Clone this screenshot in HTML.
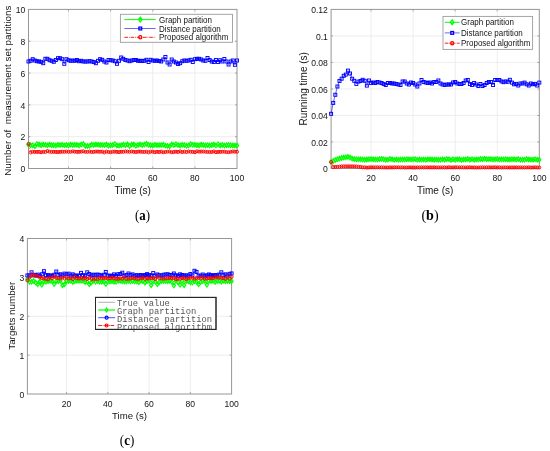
<!DOCTYPE html>
<html><head><meta charset="utf-8"><style>
html,body{margin:0;padding:0;background:#fff;}
svg{display:block;filter:blur(0.35px);font-family:"Liberation Sans",sans-serif;}
</style></head><body>
<svg width="550" height="451" viewBox="0 0 550 451">
<rect width="550" height="451" fill="#fff"/>
<path d="M68.52 9.4V168.5M110.64 9.4V168.5M152.76 9.4V168.5M194.88 9.4V168.5M28.5 136.68H237.0M28.5 104.86H237.0M28.5 73.04H237.0M28.5 41.22H237.0" stroke="#e8e8e8" stroke-width="0.8" fill="none"/>
<path d="M68.52 168.5v-2M68.52 9.4v2M110.64 168.5v-2M110.64 9.4v2M152.76 168.5v-2M152.76 9.4v2M194.88 168.5v-2M194.88 9.4v2M28.5 136.68h2M237.0 136.68h-2M28.5 104.86h2M237.0 104.86h-2M28.5 73.04h2M237.0 73.04h-2M28.5 41.22h2M237.0 41.22h-2" stroke="#969696" stroke-width="0.8" fill="none"/>
<rect x="28.5" y="9.4" width="208.50" height="159.10" stroke="#969696" stroke-width="1" fill="none"/>
<text x="68.52" y="180.90" text-anchor="middle" font-size="8.6" fill="#141414">20</text>
<text x="110.64" y="180.90" text-anchor="middle" font-size="8.6" fill="#141414">40</text>
<text x="152.76" y="180.90" text-anchor="middle" font-size="8.6" fill="#141414">60</text>
<text x="194.88" y="180.90" text-anchor="middle" font-size="8.6" fill="#141414">80</text>
<text x="237.00" y="180.90" text-anchor="middle" font-size="8.6" fill="#141414">100</text>
<text x="25.30" y="172.20" text-anchor="end" font-size="8.6" fill="#141414">0</text>
<text x="25.30" y="140.38" text-anchor="end" font-size="8.6" fill="#141414">2</text>
<text x="25.30" y="108.56" text-anchor="end" font-size="8.6" fill="#141414">4</text>
<text x="25.30" y="76.74" text-anchor="end" font-size="8.6" fill="#141414">6</text>
<text x="25.30" y="44.92" text-anchor="end" font-size="8.6" fill="#141414">8</text>
<text x="25.30" y="13.10" text-anchor="end" font-size="8.6" fill="#141414">10</text>
<text x="132.75" y="193.5" text-anchor="middle" font-size="10.0" fill="#141414">Time (s)</text>
<text transform="translate(10.9 90.7) rotate(-90)" text-anchor="middle" font-size="9.85" fill="#141414" xml:space="preserve">Number of  measurement set partitions</text>
<path d="M28.50 61.50L30.61 60.80L32.71 59.20L34.82 60.50L36.92 61.20L39.03 61.50L41.14 61.80L43.24 63.20L45.35 58.80L47.45 58.80L49.56 60.20L51.67 60.80L53.77 61.80L55.88 60.00L57.98 58.20L60.09 58.20L62.20 59.20L64.30 63.80L66.41 59.20L68.52 60.20L70.62 60.80L72.73 60.50L74.83 60.80L76.94 60.00L79.05 61.20L81.15 60.80L83.26 61.50L85.36 61.50L87.47 61.50L89.58 61.20L91.68 61.50L93.79 62.00L95.89 63.20L98.00 60.80L100.11 59.20L102.21 59.80L104.32 61.50L106.42 62.50L108.53 60.00L110.64 60.20L112.74 60.50L114.85 61.20L116.95 63.80L119.06 60.80L121.17 57.50L123.27 58.80L125.38 60.00L127.48 60.50L129.59 61.20L131.70 60.50L133.80 60.00L135.91 60.00L138.02 60.80L140.12 60.80L142.23 61.00L144.33 60.80L146.44 59.80L148.55 62.00L150.65 59.80L152.76 60.50L154.86 60.80L156.97 60.50L159.08 61.00L161.18 61.50L163.29 59.50L165.39 57.00L167.50 62.50L169.61 64.50L171.71 59.50L173.82 61.50L175.92 62.50L178.03 64.00L180.14 63.20L182.24 61.20L184.35 60.50L186.45 60.80L188.56 60.50L190.67 59.80L192.77 62.00L194.88 59.20L196.98 58.80L199.09 58.80L201.20 59.50L203.30 60.50L205.41 60.80L207.52 58.00L209.62 60.00L211.73 61.50L213.83 62.00L215.94 60.00L218.05 62.00L220.15 60.20L222.26 61.50L224.36 59.00L226.47 61.50L228.58 64.50L230.68 61.50L232.79 60.50L234.89 64.80L237.00 60.50" stroke="#0000ff" stroke-width="0.6" fill="none"/>
<g fill="none" stroke="#0000ff" stroke-width="0.95"><rect x="27.00" y="60.00" width="3.00" height="3.00"/><rect x="29.11" y="59.30" width="3.00" height="3.00"/><rect x="31.21" y="57.70" width="3.00" height="3.00"/><rect x="33.32" y="59.00" width="3.00" height="3.00"/><rect x="35.42" y="59.70" width="3.00" height="3.00"/><rect x="37.53" y="60.00" width="3.00" height="3.00"/><rect x="39.64" y="60.30" width="3.00" height="3.00"/><rect x="41.74" y="61.70" width="3.00" height="3.00"/><rect x="43.85" y="57.30" width="3.00" height="3.00"/><rect x="45.95" y="57.30" width="3.00" height="3.00"/><rect x="48.06" y="58.70" width="3.00" height="3.00"/><rect x="50.17" y="59.30" width="3.00" height="3.00"/><rect x="52.27" y="60.30" width="3.00" height="3.00"/><rect x="54.38" y="58.50" width="3.00" height="3.00"/><rect x="56.48" y="56.70" width="3.00" height="3.00"/><rect x="58.59" y="56.70" width="3.00" height="3.00"/><rect x="60.70" y="57.70" width="3.00" height="3.00"/><rect x="62.80" y="62.30" width="3.00" height="3.00"/><rect x="64.91" y="57.70" width="3.00" height="3.00"/><rect x="67.02" y="58.70" width="3.00" height="3.00"/><rect x="69.12" y="59.30" width="3.00" height="3.00"/><rect x="71.23" y="59.00" width="3.00" height="3.00"/><rect x="73.33" y="59.30" width="3.00" height="3.00"/><rect x="75.44" y="58.50" width="3.00" height="3.00"/><rect x="77.55" y="59.70" width="3.00" height="3.00"/><rect x="79.65" y="59.30" width="3.00" height="3.00"/><rect x="81.76" y="60.00" width="3.00" height="3.00"/><rect x="83.86" y="60.00" width="3.00" height="3.00"/><rect x="85.97" y="60.00" width="3.00" height="3.00"/><rect x="88.08" y="59.70" width="3.00" height="3.00"/><rect x="90.18" y="60.00" width="3.00" height="3.00"/><rect x="92.29" y="60.50" width="3.00" height="3.00"/><rect x="94.39" y="61.70" width="3.00" height="3.00"/><rect x="96.50" y="59.30" width="3.00" height="3.00"/><rect x="98.61" y="57.70" width="3.00" height="3.00"/><rect x="100.71" y="58.30" width="3.00" height="3.00"/><rect x="102.82" y="60.00" width="3.00" height="3.00"/><rect x="104.92" y="61.00" width="3.00" height="3.00"/><rect x="107.03" y="58.50" width="3.00" height="3.00"/><rect x="109.14" y="58.70" width="3.00" height="3.00"/><rect x="111.24" y="59.00" width="3.00" height="3.00"/><rect x="113.35" y="59.70" width="3.00" height="3.00"/><rect x="115.45" y="62.30" width="3.00" height="3.00"/><rect x="117.56" y="59.30" width="3.00" height="3.00"/><rect x="119.67" y="56.00" width="3.00" height="3.00"/><rect x="121.77" y="57.30" width="3.00" height="3.00"/><rect x="123.88" y="58.50" width="3.00" height="3.00"/><rect x="125.98" y="59.00" width="3.00" height="3.00"/><rect x="128.09" y="59.70" width="3.00" height="3.00"/><rect x="130.20" y="59.00" width="3.00" height="3.00"/><rect x="132.30" y="58.50" width="3.00" height="3.00"/><rect x="134.41" y="58.50" width="3.00" height="3.00"/><rect x="136.52" y="59.30" width="3.00" height="3.00"/><rect x="138.62" y="59.30" width="3.00" height="3.00"/><rect x="140.73" y="59.50" width="3.00" height="3.00"/><rect x="142.83" y="59.30" width="3.00" height="3.00"/><rect x="144.94" y="58.30" width="3.00" height="3.00"/><rect x="147.05" y="60.50" width="3.00" height="3.00"/><rect x="149.15" y="58.30" width="3.00" height="3.00"/><rect x="151.26" y="59.00" width="3.00" height="3.00"/><rect x="153.36" y="59.30" width="3.00" height="3.00"/><rect x="155.47" y="59.00" width="3.00" height="3.00"/><rect x="157.58" y="59.50" width="3.00" height="3.00"/><rect x="159.68" y="60.00" width="3.00" height="3.00"/><rect x="161.79" y="58.00" width="3.00" height="3.00"/><rect x="163.89" y="55.50" width="3.00" height="3.00"/><rect x="166.00" y="61.00" width="3.00" height="3.00"/><rect x="168.11" y="63.00" width="3.00" height="3.00"/><rect x="170.21" y="58.00" width="3.00" height="3.00"/><rect x="172.32" y="60.00" width="3.00" height="3.00"/><rect x="174.42" y="61.00" width="3.00" height="3.00"/><rect x="176.53" y="62.50" width="3.00" height="3.00"/><rect x="178.64" y="61.70" width="3.00" height="3.00"/><rect x="180.74" y="59.70" width="3.00" height="3.00"/><rect x="182.85" y="59.00" width="3.00" height="3.00"/><rect x="184.95" y="59.30" width="3.00" height="3.00"/><rect x="187.06" y="59.00" width="3.00" height="3.00"/><rect x="189.17" y="58.30" width="3.00" height="3.00"/><rect x="191.27" y="60.50" width="3.00" height="3.00"/><rect x="193.38" y="57.70" width="3.00" height="3.00"/><rect x="195.48" y="57.30" width="3.00" height="3.00"/><rect x="197.59" y="57.30" width="3.00" height="3.00"/><rect x="199.70" y="58.00" width="3.00" height="3.00"/><rect x="201.80" y="59.00" width="3.00" height="3.00"/><rect x="203.91" y="59.30" width="3.00" height="3.00"/><rect x="206.02" y="56.50" width="3.00" height="3.00"/><rect x="208.12" y="58.50" width="3.00" height="3.00"/><rect x="210.23" y="60.00" width="3.00" height="3.00"/><rect x="212.33" y="60.50" width="3.00" height="3.00"/><rect x="214.44" y="58.50" width="3.00" height="3.00"/><rect x="216.55" y="60.50" width="3.00" height="3.00"/><rect x="218.65" y="58.70" width="3.00" height="3.00"/><rect x="220.76" y="60.00" width="3.00" height="3.00"/><rect x="222.86" y="57.50" width="3.00" height="3.00"/><rect x="224.97" y="60.00" width="3.00" height="3.00"/><rect x="227.08" y="63.00" width="3.00" height="3.00"/><rect x="229.18" y="60.00" width="3.00" height="3.00"/><rect x="231.29" y="59.00" width="3.00" height="3.00"/><rect x="233.39" y="63.30" width="3.00" height="3.00"/><rect x="235.50" y="59.00" width="3.00" height="3.00"/></g>
<path d="M28.50 144.63L30.61 145.32L32.71 145.26L34.82 146.39L36.92 144.03L39.03 144.40L41.14 145.21L43.24 144.60L45.35 144.88L47.45 145.34L49.56 144.49L51.67 145.21L53.77 145.22L55.88 145.47L57.98 144.78L60.09 145.09L62.20 144.73L64.30 145.37L66.41 144.96L68.52 145.53L70.62 144.56L72.73 144.93L74.83 144.85L76.94 144.80L79.05 145.60L81.15 144.60L83.26 143.89L85.36 145.95L87.47 146.00L89.58 145.87L91.68 144.56L93.79 144.96L95.89 144.43L98.00 144.63L100.11 144.92L102.21 144.87L104.32 145.13L106.42 144.55L108.53 145.66L110.64 145.27L112.74 144.90L114.85 144.03L116.95 145.46L119.06 145.63L121.17 145.35L123.27 144.49L125.38 145.16L127.48 144.30L129.59 146.08L131.70 144.40L133.80 144.46L135.91 145.82L138.02 144.95L140.12 144.36L142.23 144.98L144.33 144.48L146.44 143.71L148.55 144.88L150.65 145.19L152.76 145.46L154.86 144.67L156.97 145.14L159.08 145.13L161.18 145.09L163.29 144.67L165.39 145.63L167.50 145.88L169.61 146.39L171.71 144.37L173.82 144.99L175.92 144.19L178.03 145.04L180.14 145.45L182.24 144.77L184.35 145.08L186.45 145.73L188.56 145.53L190.67 144.05L192.77 144.84L194.88 144.80L196.98 145.19L199.09 145.42L201.20 144.54L203.30 145.09L205.41 145.46L207.52 145.11L209.62 145.54L211.73 144.93L213.83 144.40L215.94 145.50L218.05 144.24L220.15 145.40L222.26 144.95L224.36 145.50L226.47 145.16L228.58 145.01L230.68 145.27L232.79 145.42L234.89 145.41L237.00 145.49" stroke="#00ff00" stroke-width="0.6" fill="none"/>
<g fill="none" stroke="#00ff00" stroke-width="1.15"><path d="M28.50 142.38L30.12 144.63L28.50 146.88L26.88 144.63Z"/><path d="M30.61 143.07L32.23 145.32L30.61 147.57L28.99 145.32Z"/><path d="M32.71 143.01L34.33 145.26L32.71 147.51L31.09 145.26Z"/><path d="M34.82 144.14L36.44 146.39L34.82 148.64L33.20 146.39Z"/><path d="M36.92 141.78L38.54 144.03L36.92 146.28L35.30 144.03Z"/><path d="M39.03 142.15L40.65 144.40L39.03 146.65L37.41 144.40Z"/><path d="M41.14 142.96L42.76 145.21L41.14 147.46L39.52 145.21Z"/><path d="M43.24 142.35L44.86 144.60L43.24 146.85L41.62 144.60Z"/><path d="M45.35 142.63L46.97 144.88L45.35 147.13L43.73 144.88Z"/><path d="M47.45 143.09L49.07 145.34L47.45 147.59L45.83 145.34Z"/><path d="M49.56 142.24L51.18 144.49L49.56 146.74L47.94 144.49Z"/><path d="M51.67 142.96L53.29 145.21L51.67 147.46L50.05 145.21Z"/><path d="M53.77 142.97L55.39 145.22L53.77 147.47L52.15 145.22Z"/><path d="M55.88 143.22L57.50 145.47L55.88 147.72L54.26 145.47Z"/><path d="M57.98 142.53L59.60 144.78L57.98 147.03L56.36 144.78Z"/><path d="M60.09 142.84L61.71 145.09L60.09 147.34L58.47 145.09Z"/><path d="M62.20 142.48L63.82 144.73L62.20 146.98L60.58 144.73Z"/><path d="M64.30 143.12L65.92 145.37L64.30 147.62L62.68 145.37Z"/><path d="M66.41 142.71L68.03 144.96L66.41 147.21L64.79 144.96Z"/><path d="M68.52 143.28L70.14 145.53L68.52 147.78L66.90 145.53Z"/><path d="M70.62 142.31L72.24 144.56L70.62 146.81L69.00 144.56Z"/><path d="M72.73 142.68L74.35 144.93L72.73 147.18L71.11 144.93Z"/><path d="M74.83 142.60L76.45 144.85L74.83 147.10L73.21 144.85Z"/><path d="M76.94 142.55L78.56 144.80L76.94 147.05L75.32 144.80Z"/><path d="M79.05 143.35L80.67 145.60L79.05 147.85L77.43 145.60Z"/><path d="M81.15 142.35L82.77 144.60L81.15 146.85L79.53 144.60Z"/><path d="M83.26 141.64L84.88 143.89L83.26 146.14L81.64 143.89Z"/><path d="M85.36 143.70L86.98 145.95L85.36 148.20L83.74 145.95Z"/><path d="M87.47 143.75L89.09 146.00L87.47 148.25L85.85 146.00Z"/><path d="M89.58 143.62L91.20 145.87L89.58 148.12L87.96 145.87Z"/><path d="M91.68 142.31L93.30 144.56L91.68 146.81L90.06 144.56Z"/><path d="M93.79 142.71L95.41 144.96L93.79 147.21L92.17 144.96Z"/><path d="M95.89 142.18L97.51 144.43L95.89 146.68L94.27 144.43Z"/><path d="M98.00 142.38L99.62 144.63L98.00 146.88L96.38 144.63Z"/><path d="M100.11 142.67L101.73 144.92L100.11 147.17L98.49 144.92Z"/><path d="M102.21 142.62L103.83 144.87L102.21 147.12L100.59 144.87Z"/><path d="M104.32 142.88L105.94 145.13L104.32 147.38L102.70 145.13Z"/><path d="M106.42 142.30L108.04 144.55L106.42 146.80L104.80 144.55Z"/><path d="M108.53 143.41L110.15 145.66L108.53 147.91L106.91 145.66Z"/><path d="M110.64 143.02L112.26 145.27L110.64 147.52L109.02 145.27Z"/><path d="M112.74 142.65L114.36 144.90L112.74 147.15L111.12 144.90Z"/><path d="M114.85 141.78L116.47 144.03L114.85 146.28L113.23 144.03Z"/><path d="M116.95 143.21L118.57 145.46L116.95 147.71L115.33 145.46Z"/><path d="M119.06 143.38L120.68 145.63L119.06 147.88L117.44 145.63Z"/><path d="M121.17 143.10L122.79 145.35L121.17 147.60L119.55 145.35Z"/><path d="M123.27 142.24L124.89 144.49L123.27 146.74L121.65 144.49Z"/><path d="M125.38 142.91L127.00 145.16L125.38 147.41L123.76 145.16Z"/><path d="M127.48 142.05L129.10 144.30L127.48 146.55L125.86 144.30Z"/><path d="M129.59 143.83L131.21 146.08L129.59 148.33L127.97 146.08Z"/><path d="M131.70 142.15L133.32 144.40L131.70 146.65L130.08 144.40Z"/><path d="M133.80 142.21L135.42 144.46L133.80 146.71L132.18 144.46Z"/><path d="M135.91 143.57L137.53 145.82L135.91 148.07L134.29 145.82Z"/><path d="M138.02 142.70L139.64 144.95L138.02 147.20L136.40 144.95Z"/><path d="M140.12 142.11L141.74 144.36L140.12 146.61L138.50 144.36Z"/><path d="M142.23 142.73L143.85 144.98L142.23 147.23L140.61 144.98Z"/><path d="M144.33 142.23L145.95 144.48L144.33 146.73L142.71 144.48Z"/><path d="M146.44 141.46L148.06 143.71L146.44 145.96L144.82 143.71Z"/><path d="M148.55 142.63L150.17 144.88L148.55 147.13L146.93 144.88Z"/><path d="M150.65 142.94L152.27 145.19L150.65 147.44L149.03 145.19Z"/><path d="M152.76 143.21L154.38 145.46L152.76 147.71L151.14 145.46Z"/><path d="M154.86 142.42L156.48 144.67L154.86 146.92L153.24 144.67Z"/><path d="M156.97 142.89L158.59 145.14L156.97 147.39L155.35 145.14Z"/><path d="M159.08 142.88L160.70 145.13L159.08 147.38L157.46 145.13Z"/><path d="M161.18 142.84L162.80 145.09L161.18 147.34L159.56 145.09Z"/><path d="M163.29 142.42L164.91 144.67L163.29 146.92L161.67 144.67Z"/><path d="M165.39 143.38L167.01 145.63L165.39 147.88L163.77 145.63Z"/><path d="M167.50 143.63L169.12 145.88L167.50 148.13L165.88 145.88Z"/><path d="M169.61 144.14L171.23 146.39L169.61 148.64L167.99 146.39Z"/><path d="M171.71 142.12L173.33 144.37L171.71 146.62L170.09 144.37Z"/><path d="M173.82 142.74L175.44 144.99L173.82 147.24L172.20 144.99Z"/><path d="M175.92 141.94L177.54 144.19L175.92 146.44L174.30 144.19Z"/><path d="M178.03 142.79L179.65 145.04L178.03 147.29L176.41 145.04Z"/><path d="M180.14 143.20L181.76 145.45L180.14 147.70L178.52 145.45Z"/><path d="M182.24 142.52L183.86 144.77L182.24 147.02L180.62 144.77Z"/><path d="M184.35 142.83L185.97 145.08L184.35 147.33L182.73 145.08Z"/><path d="M186.45 143.48L188.07 145.73L186.45 147.98L184.83 145.73Z"/><path d="M188.56 143.28L190.18 145.53L188.56 147.78L186.94 145.53Z"/><path d="M190.67 141.80L192.29 144.05L190.67 146.30L189.05 144.05Z"/><path d="M192.77 142.59L194.39 144.84L192.77 147.09L191.15 144.84Z"/><path d="M194.88 142.55L196.50 144.80L194.88 147.05L193.26 144.80Z"/><path d="M196.98 142.94L198.60 145.19L196.98 147.44L195.36 145.19Z"/><path d="M199.09 143.17L200.71 145.42L199.09 147.67L197.47 145.42Z"/><path d="M201.20 142.29L202.82 144.54L201.20 146.79L199.58 144.54Z"/><path d="M203.30 142.84L204.92 145.09L203.30 147.34L201.68 145.09Z"/><path d="M205.41 143.21L207.03 145.46L205.41 147.71L203.79 145.46Z"/><path d="M207.52 142.86L209.14 145.11L207.52 147.36L205.90 145.11Z"/><path d="M209.62 143.29L211.24 145.54L209.62 147.79L208.00 145.54Z"/><path d="M211.73 142.68L213.35 144.93L211.73 147.18L210.11 144.93Z"/><path d="M213.83 142.15L215.45 144.40L213.83 146.65L212.21 144.40Z"/><path d="M215.94 143.25L217.56 145.50L215.94 147.75L214.32 145.50Z"/><path d="M218.05 141.99L219.67 144.24L218.05 146.49L216.43 144.24Z"/><path d="M220.15 143.15L221.77 145.40L220.15 147.65L218.53 145.40Z"/><path d="M222.26 142.70L223.88 144.95L222.26 147.20L220.64 144.95Z"/><path d="M224.36 143.25L225.98 145.50L224.36 147.75L222.74 145.50Z"/><path d="M226.47 142.91L228.09 145.16L226.47 147.41L224.85 145.16Z"/><path d="M228.58 142.76L230.20 145.01L228.58 147.26L226.96 145.01Z"/><path d="M230.68 143.02L232.30 145.27L230.68 147.52L229.06 145.27Z"/><path d="M232.79 143.17L234.41 145.42L232.79 147.67L231.17 145.42Z"/><path d="M234.89 143.16L236.51 145.41L234.89 147.66L233.27 145.41Z"/><path d="M237.00 143.24L238.62 145.49L237.00 147.74L235.38 145.49Z"/></g>
<path d="M28.50 143.84L30.61 152.40L32.71 151.69L34.82 151.93L36.92 151.90L39.03 151.85L41.14 152.28L43.24 151.85L45.35 152.00L47.45 151.00L49.56 151.74L51.67 151.88L53.77 151.86L55.88 151.95L57.98 152.05L60.09 151.89L62.20 151.68L64.30 151.85L66.41 151.57L68.52 151.84L70.62 151.79L72.73 151.43L74.83 151.66L76.94 151.92L79.05 151.84L81.15 151.67L83.26 151.33L85.36 151.86L87.47 151.85L89.58 151.56L91.68 152.01L93.79 151.86L95.89 151.58L98.00 151.66L100.11 151.77L102.21 151.63L104.32 152.47L106.42 151.55L108.53 152.02L110.64 152.19L112.74 151.73L114.85 151.63L116.95 151.90L119.06 152.05L121.17 151.79L123.27 151.81L125.38 151.46L127.48 151.62L129.59 151.75L131.70 151.53L133.80 151.84L135.91 152.02L138.02 151.66L140.12 151.66L142.23 151.85L144.33 151.98L146.44 151.74L148.55 152.39L150.65 151.63L152.76 151.68L154.86 152.19L156.97 151.78L159.08 152.02L161.18 151.61L163.29 152.28L165.39 152.01L167.50 151.63L169.61 151.52L171.71 152.31L173.82 151.91L175.92 151.72L178.03 151.94L180.14 151.41L182.24 152.08L184.35 151.71L186.45 152.04L188.56 151.46L190.67 151.80L192.77 151.88L194.88 152.20L196.98 151.39L199.09 151.61L201.20 151.61L203.30 151.52L205.41 151.71L207.52 151.95L209.62 151.99L211.73 151.99L213.83 151.47L215.94 152.14L218.05 151.94L220.15 151.87L222.26 151.74L224.36 151.66L226.47 152.09L228.58 152.21L230.68 151.80L232.79 151.50L234.89 151.61L237.00 151.74" stroke="#ff0000" stroke-width="0.6" fill="none" stroke-dasharray="3.6 0.9 0.8 0.9"/>
<g fill="none" stroke="#ff0000" stroke-width="0.95"><circle cx="28.50" cy="143.84" r="1.50"/><circle cx="30.61" cy="152.40" r="1.50"/><circle cx="32.71" cy="151.69" r="1.50"/><circle cx="34.82" cy="151.93" r="1.50"/><circle cx="36.92" cy="151.90" r="1.50"/><circle cx="39.03" cy="151.85" r="1.50"/><circle cx="41.14" cy="152.28" r="1.50"/><circle cx="43.24" cy="151.85" r="1.50"/><circle cx="45.35" cy="152.00" r="1.50"/><circle cx="47.45" cy="151.00" r="1.50"/><circle cx="49.56" cy="151.74" r="1.50"/><circle cx="51.67" cy="151.88" r="1.50"/><circle cx="53.77" cy="151.86" r="1.50"/><circle cx="55.88" cy="151.95" r="1.50"/><circle cx="57.98" cy="152.05" r="1.50"/><circle cx="60.09" cy="151.89" r="1.50"/><circle cx="62.20" cy="151.68" r="1.50"/><circle cx="64.30" cy="151.85" r="1.50"/><circle cx="66.41" cy="151.57" r="1.50"/><circle cx="68.52" cy="151.84" r="1.50"/><circle cx="70.62" cy="151.79" r="1.50"/><circle cx="72.73" cy="151.43" r="1.50"/><circle cx="74.83" cy="151.66" r="1.50"/><circle cx="76.94" cy="151.92" r="1.50"/><circle cx="79.05" cy="151.84" r="1.50"/><circle cx="81.15" cy="151.67" r="1.50"/><circle cx="83.26" cy="151.33" r="1.50"/><circle cx="85.36" cy="151.86" r="1.50"/><circle cx="87.47" cy="151.85" r="1.50"/><circle cx="89.58" cy="151.56" r="1.50"/><circle cx="91.68" cy="152.01" r="1.50"/><circle cx="93.79" cy="151.86" r="1.50"/><circle cx="95.89" cy="151.58" r="1.50"/><circle cx="98.00" cy="151.66" r="1.50"/><circle cx="100.11" cy="151.77" r="1.50"/><circle cx="102.21" cy="151.63" r="1.50"/><circle cx="104.32" cy="152.47" r="1.50"/><circle cx="106.42" cy="151.55" r="1.50"/><circle cx="108.53" cy="152.02" r="1.50"/><circle cx="110.64" cy="152.19" r="1.50"/><circle cx="112.74" cy="151.73" r="1.50"/><circle cx="114.85" cy="151.63" r="1.50"/><circle cx="116.95" cy="151.90" r="1.50"/><circle cx="119.06" cy="152.05" r="1.50"/><circle cx="121.17" cy="151.79" r="1.50"/><circle cx="123.27" cy="151.81" r="1.50"/><circle cx="125.38" cy="151.46" r="1.50"/><circle cx="127.48" cy="151.62" r="1.50"/><circle cx="129.59" cy="151.75" r="1.50"/><circle cx="131.70" cy="151.53" r="1.50"/><circle cx="133.80" cy="151.84" r="1.50"/><circle cx="135.91" cy="152.02" r="1.50"/><circle cx="138.02" cy="151.66" r="1.50"/><circle cx="140.12" cy="151.66" r="1.50"/><circle cx="142.23" cy="151.85" r="1.50"/><circle cx="144.33" cy="151.98" r="1.50"/><circle cx="146.44" cy="151.74" r="1.50"/><circle cx="148.55" cy="152.39" r="1.50"/><circle cx="150.65" cy="151.63" r="1.50"/><circle cx="152.76" cy="151.68" r="1.50"/><circle cx="154.86" cy="152.19" r="1.50"/><circle cx="156.97" cy="151.78" r="1.50"/><circle cx="159.08" cy="152.02" r="1.50"/><circle cx="161.18" cy="151.61" r="1.50"/><circle cx="163.29" cy="152.28" r="1.50"/><circle cx="165.39" cy="152.01" r="1.50"/><circle cx="167.50" cy="151.63" r="1.50"/><circle cx="169.61" cy="151.52" r="1.50"/><circle cx="171.71" cy="152.31" r="1.50"/><circle cx="173.82" cy="151.91" r="1.50"/><circle cx="175.92" cy="151.72" r="1.50"/><circle cx="178.03" cy="151.94" r="1.50"/><circle cx="180.14" cy="151.41" r="1.50"/><circle cx="182.24" cy="152.08" r="1.50"/><circle cx="184.35" cy="151.71" r="1.50"/><circle cx="186.45" cy="152.04" r="1.50"/><circle cx="188.56" cy="151.46" r="1.50"/><circle cx="190.67" cy="151.80" r="1.50"/><circle cx="192.77" cy="151.88" r="1.50"/><circle cx="194.88" cy="152.20" r="1.50"/><circle cx="196.98" cy="151.39" r="1.50"/><circle cx="199.09" cy="151.61" r="1.50"/><circle cx="201.20" cy="151.61" r="1.50"/><circle cx="203.30" cy="151.52" r="1.50"/><circle cx="205.41" cy="151.71" r="1.50"/><circle cx="207.52" cy="151.95" r="1.50"/><circle cx="209.62" cy="151.99" r="1.50"/><circle cx="211.73" cy="151.99" r="1.50"/><circle cx="213.83" cy="151.47" r="1.50"/><circle cx="215.94" cy="152.14" r="1.50"/><circle cx="218.05" cy="151.94" r="1.50"/><circle cx="220.15" cy="151.87" r="1.50"/><circle cx="222.26" cy="151.74" r="1.50"/><circle cx="224.36" cy="151.66" r="1.50"/><circle cx="226.47" cy="152.09" r="1.50"/><circle cx="228.58" cy="152.21" r="1.50"/><circle cx="230.68" cy="151.80" r="1.50"/><circle cx="232.79" cy="151.50" r="1.50"/><circle cx="234.89" cy="151.61" r="1.50"/><circle cx="237.00" cy="151.74" r="1.50"/></g>
<rect x="120.4" y="14.3" width="112.10" height="28.00" fill="#fff" stroke="#9c9c9c" stroke-width="0.9"/>
<path d="M124.4 19.6H155.6" stroke="#00ff00" stroke-width="1.0"/>
<g fill="none" stroke="#00ff00" stroke-width="1.25"><path d="M140.30 17.23L142.01 19.60L140.30 21.98L138.59 19.60Z"/></g>
<text transform="translate(159.0 22.70) scale(0.885 1)" font-size="9.05" fill="#141414">Graph partition</text>
<path d="M124.4 28.5H155.6" stroke="#0000ff" stroke-width="0.6"/>
<g fill="none" stroke="#0000ff" stroke-width="1.25"><rect x="138.90" y="27.10" width="2.80" height="2.80"/></g>
<text transform="translate(159.0 31.60) scale(0.885 1)" font-size="9.05" fill="#141414">Distance partition</text>
<path d="M124.4 37.3H155.6" stroke="#ff0000" stroke-width="0.9" stroke-dasharray="3.6 0.9 0.8 0.9"/>
<g fill="none" stroke="#ff0000" stroke-width="1.25"><circle cx="140.30" cy="37.30" r="1.60"/></g>
<text transform="translate(159.0 40.40) scale(0.885 1)" font-size="9.05" fill="#141414">Proposed algorithm</text>
<path d="M371.06 9.4V168.5M413.12 9.4V168.5M455.18 9.4V168.5M497.24 9.4V168.5M331.1 141.98H539.3M331.1 115.47H539.3M331.1 88.95H539.3M331.1 62.43H539.3M331.1 35.92H539.3" stroke="#e8e8e8" stroke-width="0.8" fill="none"/>
<path d="M371.06 168.5v-2M371.06 9.4v2M413.12 168.5v-2M413.12 9.4v2M455.18 168.5v-2M455.18 9.4v2M497.24 168.5v-2M497.24 9.4v2M331.1 141.98h2M539.3 141.98h-2M331.1 115.47h2M539.3 115.47h-2M331.1 88.95h2M539.3 88.95h-2M331.1 62.43h2M539.3 62.43h-2M331.1 35.92h2M539.3 35.92h-2" stroke="#969696" stroke-width="0.8" fill="none"/>
<rect x="331.1" y="9.4" width="208.20" height="159.10" stroke="#969696" stroke-width="1" fill="none"/>
<text x="371.06" y="180.90" text-anchor="middle" font-size="8.6" fill="#141414">20</text>
<text x="413.12" y="180.90" text-anchor="middle" font-size="8.6" fill="#141414">40</text>
<text x="455.18" y="180.90" text-anchor="middle" font-size="8.6" fill="#141414">60</text>
<text x="497.24" y="180.90" text-anchor="middle" font-size="8.6" fill="#141414">80</text>
<text x="539.30" y="180.90" text-anchor="middle" font-size="8.6" fill="#141414">100</text>
<text x="327.90" y="172.20" text-anchor="end" font-size="8.6" fill="#141414">0</text>
<text x="327.90" y="145.68" text-anchor="end" font-size="8.6" fill="#141414">0.02</text>
<text x="327.90" y="119.17" text-anchor="end" font-size="8.6" fill="#141414">0.04</text>
<text x="327.90" y="92.65" text-anchor="end" font-size="8.6" fill="#141414">0.06</text>
<text x="327.90" y="66.13" text-anchor="end" font-size="8.6" fill="#141414">0.08</text>
<text x="327.90" y="39.62" text-anchor="end" font-size="8.6" fill="#141414">0.1</text>
<text x="327.90" y="13.10" text-anchor="end" font-size="8.6" fill="#141414">0.12</text>
<text x="435.20" y="193.5" text-anchor="middle" font-size="10.0" fill="#141414">Time (s)</text>
<text transform="translate(306.8 88.8) rotate(-90)" text-anchor="middle" font-size="10.0" fill="#141414" xml:space="preserve">Running time (s)</text>
<path d="M331.10 113.80L333.20 102.90L335.31 94.80L337.41 86.50L339.51 81.00L341.62 78.70L343.72 75.80L345.82 74.60L347.92 70.60L350.03 73.50L352.13 78.70L354.23 80.80L356.34 83.90L358.44 81.60L360.54 81.00L362.65 79.80L364.75 80.80L366.85 85.60L368.95 80.50L371.06 83.00L373.16 82.50L375.26 83.00L377.37 82.00L379.47 82.50L381.57 83.00L383.68 84.00L385.78 85.00L387.88 83.00L389.98 83.00L392.09 83.50L394.19 83.50L396.29 84.00L398.40 84.50L400.50 85.00L402.60 81.50L404.71 81.50L406.81 83.50L408.91 84.50L411.02 82.50L413.12 83.00L415.22 84.50L417.32 86.50L419.43 83.50L421.53 80.00L423.63 82.00L425.74 82.50L427.84 83.00L429.94 82.50L432.05 83.50L434.15 82.00L436.25 82.00L438.35 80.50L440.46 83.50L442.56 84.50L444.66 85.00L446.77 84.50L448.87 84.50L450.97 84.50L453.08 82.50L455.18 82.00L457.28 83.50L459.38 84.00L461.49 84.00L463.59 83.00L465.69 80.50L467.80 80.00L469.90 84.00L472.00 85.00L474.11 83.00L476.21 84.50L478.31 86.00L480.42 84.00L482.52 86.00L484.62 85.00L486.72 83.00L488.83 82.00L490.93 82.00L493.03 85.00L495.14 80.00L497.24 80.00L499.34 80.00L501.45 81.40L503.55 82.20L505.65 81.40L507.75 81.80L509.86 79.80L511.96 82.60L514.06 84.30L516.17 83.90L518.27 85.50L520.37 83.50L522.48 83.50L524.58 82.60L526.68 84.30L528.78 85.50L530.89 83.50L532.99 84.30L535.09 83.90L537.20 85.50L539.30 82.60" stroke="#0000ff" stroke-width="0.6" fill="none"/>
<g fill="none" stroke="#0000ff" stroke-width="0.95"><rect x="329.60" y="112.30" width="3.00" height="3.00"/><rect x="331.70" y="101.40" width="3.00" height="3.00"/><rect x="333.81" y="93.30" width="3.00" height="3.00"/><rect x="335.91" y="85.00" width="3.00" height="3.00"/><rect x="338.01" y="79.50" width="3.00" height="3.00"/><rect x="340.12" y="77.20" width="3.00" height="3.00"/><rect x="342.22" y="74.30" width="3.00" height="3.00"/><rect x="344.32" y="73.10" width="3.00" height="3.00"/><rect x="346.42" y="69.10" width="3.00" height="3.00"/><rect x="348.53" y="72.00" width="3.00" height="3.00"/><rect x="350.63" y="77.20" width="3.00" height="3.00"/><rect x="352.73" y="79.30" width="3.00" height="3.00"/><rect x="354.84" y="82.40" width="3.00" height="3.00"/><rect x="356.94" y="80.10" width="3.00" height="3.00"/><rect x="359.04" y="79.50" width="3.00" height="3.00"/><rect x="361.15" y="78.30" width="3.00" height="3.00"/><rect x="363.25" y="79.30" width="3.00" height="3.00"/><rect x="365.35" y="84.10" width="3.00" height="3.00"/><rect x="367.45" y="79.00" width="3.00" height="3.00"/><rect x="369.56" y="81.50" width="3.00" height="3.00"/><rect x="371.66" y="81.00" width="3.00" height="3.00"/><rect x="373.76" y="81.50" width="3.00" height="3.00"/><rect x="375.87" y="80.50" width="3.00" height="3.00"/><rect x="377.97" y="81.00" width="3.00" height="3.00"/><rect x="380.07" y="81.50" width="3.00" height="3.00"/><rect x="382.18" y="82.50" width="3.00" height="3.00"/><rect x="384.28" y="83.50" width="3.00" height="3.00"/><rect x="386.38" y="81.50" width="3.00" height="3.00"/><rect x="388.48" y="81.50" width="3.00" height="3.00"/><rect x="390.59" y="82.00" width="3.00" height="3.00"/><rect x="392.69" y="82.00" width="3.00" height="3.00"/><rect x="394.79" y="82.50" width="3.00" height="3.00"/><rect x="396.90" y="83.00" width="3.00" height="3.00"/><rect x="399.00" y="83.50" width="3.00" height="3.00"/><rect x="401.10" y="80.00" width="3.00" height="3.00"/><rect x="403.21" y="80.00" width="3.00" height="3.00"/><rect x="405.31" y="82.00" width="3.00" height="3.00"/><rect x="407.41" y="83.00" width="3.00" height="3.00"/><rect x="409.52" y="81.00" width="3.00" height="3.00"/><rect x="411.62" y="81.50" width="3.00" height="3.00"/><rect x="413.72" y="83.00" width="3.00" height="3.00"/><rect x="415.82" y="85.00" width="3.00" height="3.00"/><rect x="417.93" y="82.00" width="3.00" height="3.00"/><rect x="420.03" y="78.50" width="3.00" height="3.00"/><rect x="422.13" y="80.50" width="3.00" height="3.00"/><rect x="424.24" y="81.00" width="3.00" height="3.00"/><rect x="426.34" y="81.50" width="3.00" height="3.00"/><rect x="428.44" y="81.00" width="3.00" height="3.00"/><rect x="430.55" y="82.00" width="3.00" height="3.00"/><rect x="432.65" y="80.50" width="3.00" height="3.00"/><rect x="434.75" y="80.50" width="3.00" height="3.00"/><rect x="436.85" y="79.00" width="3.00" height="3.00"/><rect x="438.96" y="82.00" width="3.00" height="3.00"/><rect x="441.06" y="83.00" width="3.00" height="3.00"/><rect x="443.16" y="83.50" width="3.00" height="3.00"/><rect x="445.27" y="83.00" width="3.00" height="3.00"/><rect x="447.37" y="83.00" width="3.00" height="3.00"/><rect x="449.47" y="83.00" width="3.00" height="3.00"/><rect x="451.58" y="81.00" width="3.00" height="3.00"/><rect x="453.68" y="80.50" width="3.00" height="3.00"/><rect x="455.78" y="82.00" width="3.00" height="3.00"/><rect x="457.88" y="82.50" width="3.00" height="3.00"/><rect x="459.99" y="82.50" width="3.00" height="3.00"/><rect x="462.09" y="81.50" width="3.00" height="3.00"/><rect x="464.19" y="79.00" width="3.00" height="3.00"/><rect x="466.30" y="78.50" width="3.00" height="3.00"/><rect x="468.40" y="82.50" width="3.00" height="3.00"/><rect x="470.50" y="83.50" width="3.00" height="3.00"/><rect x="472.61" y="81.50" width="3.00" height="3.00"/><rect x="474.71" y="83.00" width="3.00" height="3.00"/><rect x="476.81" y="84.50" width="3.00" height="3.00"/><rect x="478.92" y="82.50" width="3.00" height="3.00"/><rect x="481.02" y="84.50" width="3.00" height="3.00"/><rect x="483.12" y="83.50" width="3.00" height="3.00"/><rect x="485.22" y="81.50" width="3.00" height="3.00"/><rect x="487.33" y="80.50" width="3.00" height="3.00"/><rect x="489.43" y="80.50" width="3.00" height="3.00"/><rect x="491.53" y="83.50" width="3.00" height="3.00"/><rect x="493.64" y="78.50" width="3.00" height="3.00"/><rect x="495.74" y="78.50" width="3.00" height="3.00"/><rect x="497.84" y="78.50" width="3.00" height="3.00"/><rect x="499.95" y="79.90" width="3.00" height="3.00"/><rect x="502.05" y="80.70" width="3.00" height="3.00"/><rect x="504.15" y="79.90" width="3.00" height="3.00"/><rect x="506.25" y="80.30" width="3.00" height="3.00"/><rect x="508.36" y="78.30" width="3.00" height="3.00"/><rect x="510.46" y="81.10" width="3.00" height="3.00"/><rect x="512.56" y="82.80" width="3.00" height="3.00"/><rect x="514.67" y="82.40" width="3.00" height="3.00"/><rect x="516.77" y="84.00" width="3.00" height="3.00"/><rect x="518.87" y="82.00" width="3.00" height="3.00"/><rect x="520.98" y="82.00" width="3.00" height="3.00"/><rect x="523.08" y="81.10" width="3.00" height="3.00"/><rect x="525.18" y="82.80" width="3.00" height="3.00"/><rect x="527.28" y="84.00" width="3.00" height="3.00"/><rect x="529.39" y="82.00" width="3.00" height="3.00"/><rect x="531.49" y="82.80" width="3.00" height="3.00"/><rect x="533.59" y="82.40" width="3.00" height="3.00"/><rect x="535.70" y="84.00" width="3.00" height="3.00"/><rect x="537.80" y="81.10" width="3.00" height="3.00"/></g>
<path d="M331.10 162.00L333.20 160.94L335.31 160.01L337.41 159.22L339.51 158.56L341.62 158.03L343.72 157.50L345.82 157.23L347.92 156.83L350.03 157.50L352.13 158.56L354.23 159.09L356.34 159.22L358.44 159.35L360.54 159.35L362.65 159.59L364.75 159.74L366.85 159.42L368.95 159.23L371.06 159.02L373.16 159.32L375.26 159.51L377.37 159.58L379.47 159.13L381.57 158.87L383.68 159.27L385.78 159.71L387.88 159.63L389.98 158.89L392.09 159.29L394.19 159.86L396.29 159.38L398.40 159.69L400.50 159.54L402.60 159.49L404.71 159.56L406.81 159.19L408.91 159.37L411.02 159.52L413.12 159.23L415.22 159.11L417.32 159.83L419.43 159.43L421.53 159.64L423.63 159.40L425.74 159.73L427.84 159.35L429.94 159.36L432.05 159.44L434.15 159.66L436.25 159.47L438.35 159.67L440.46 159.75L442.56 159.29L444.66 159.68L446.77 159.01L448.87 159.14L450.97 159.93L453.08 159.27L455.18 159.67L457.28 159.34L459.38 159.34L461.49 159.93L463.59 159.42L465.69 159.43L467.80 159.07L469.90 159.70L472.00 159.14L474.11 159.67L476.21 159.45L478.31 159.60L480.42 158.93L482.52 159.19L484.62 158.64L486.72 159.16L488.83 159.11L490.93 159.11L493.03 159.53L495.14 159.37L497.24 158.96L499.34 159.47L501.45 159.30L503.55 159.36L505.65 159.17L507.75 159.46L509.86 159.40L511.96 159.28L514.06 159.32L516.17 159.60L518.27 159.09L520.37 159.73L522.48 159.70L524.58 159.73L526.68 159.07L528.78 159.46L530.89 159.63L532.99 159.68L535.09 159.23L537.20 159.66L539.30 159.72" stroke="#00ff00" stroke-width="0.6" fill="none"/>
<g fill="none" stroke="#00ff00" stroke-width="1.15"><path d="M331.10 159.75L332.72 162.00L331.10 164.25L329.48 162.00Z"/><path d="M333.20 158.69L334.82 160.94L333.20 163.19L331.58 160.94Z"/><path d="M335.31 157.76L336.93 160.01L335.31 162.26L333.69 160.01Z"/><path d="M337.41 156.97L339.03 159.22L337.41 161.47L335.79 159.22Z"/><path d="M339.51 156.31L341.13 158.56L339.51 160.81L337.89 158.56Z"/><path d="M341.62 155.78L343.24 158.03L341.62 160.28L340.00 158.03Z"/><path d="M343.72 155.25L345.34 157.50L343.72 159.75L342.10 157.50Z"/><path d="M345.82 154.98L347.44 157.23L345.82 159.48L344.20 157.23Z"/><path d="M347.92 154.58L349.54 156.83L347.92 159.08L346.30 156.83Z"/><path d="M350.03 155.25L351.65 157.50L350.03 159.75L348.41 157.50Z"/><path d="M352.13 156.31L353.75 158.56L352.13 160.81L350.51 158.56Z"/><path d="M354.23 156.84L355.85 159.09L354.23 161.34L352.61 159.09Z"/><path d="M356.34 156.97L357.96 159.22L356.34 161.47L354.72 159.22Z"/><path d="M358.44 157.10L360.06 159.35L358.44 161.60L356.82 159.35Z"/><path d="M360.54 157.10L362.16 159.35L360.54 161.60L358.92 159.35Z"/><path d="M362.65 157.34L364.27 159.59L362.65 161.84L361.03 159.59Z"/><path d="M364.75 157.49L366.37 159.74L364.75 161.99L363.13 159.74Z"/><path d="M366.85 157.17L368.47 159.42L366.85 161.67L365.23 159.42Z"/><path d="M368.95 156.98L370.57 159.23L368.95 161.48L367.33 159.23Z"/><path d="M371.06 156.77L372.68 159.02L371.06 161.27L369.44 159.02Z"/><path d="M373.16 157.07L374.78 159.32L373.16 161.57L371.54 159.32Z"/><path d="M375.26 157.26L376.88 159.51L375.26 161.76L373.64 159.51Z"/><path d="M377.37 157.33L378.99 159.58L377.37 161.83L375.75 159.58Z"/><path d="M379.47 156.88L381.09 159.13L379.47 161.38L377.85 159.13Z"/><path d="M381.57 156.62L383.19 158.87L381.57 161.12L379.95 158.87Z"/><path d="M383.68 157.02L385.30 159.27L383.68 161.52L382.06 159.27Z"/><path d="M385.78 157.46L387.40 159.71L385.78 161.96L384.16 159.71Z"/><path d="M387.88 157.38L389.50 159.63L387.88 161.88L386.26 159.63Z"/><path d="M389.98 156.64L391.60 158.89L389.98 161.14L388.36 158.89Z"/><path d="M392.09 157.04L393.71 159.29L392.09 161.54L390.47 159.29Z"/><path d="M394.19 157.61L395.81 159.86L394.19 162.11L392.57 159.86Z"/><path d="M396.29 157.13L397.91 159.38L396.29 161.63L394.67 159.38Z"/><path d="M398.40 157.44L400.02 159.69L398.40 161.94L396.78 159.69Z"/><path d="M400.50 157.29L402.12 159.54L400.50 161.79L398.88 159.54Z"/><path d="M402.60 157.24L404.22 159.49L402.60 161.74L400.98 159.49Z"/><path d="M404.71 157.31L406.33 159.56L404.71 161.81L403.09 159.56Z"/><path d="M406.81 156.94L408.43 159.19L406.81 161.44L405.19 159.19Z"/><path d="M408.91 157.12L410.53 159.37L408.91 161.62L407.29 159.37Z"/><path d="M411.02 157.27L412.64 159.52L411.02 161.77L409.40 159.52Z"/><path d="M413.12 156.98L414.74 159.23L413.12 161.48L411.50 159.23Z"/><path d="M415.22 156.86L416.84 159.11L415.22 161.36L413.60 159.11Z"/><path d="M417.32 157.58L418.94 159.83L417.32 162.08L415.70 159.83Z"/><path d="M419.43 157.18L421.05 159.43L419.43 161.68L417.81 159.43Z"/><path d="M421.53 157.39L423.15 159.64L421.53 161.89L419.91 159.64Z"/><path d="M423.63 157.15L425.25 159.40L423.63 161.65L422.01 159.40Z"/><path d="M425.74 157.48L427.36 159.73L425.74 161.98L424.12 159.73Z"/><path d="M427.84 157.10L429.46 159.35L427.84 161.60L426.22 159.35Z"/><path d="M429.94 157.11L431.56 159.36L429.94 161.61L428.32 159.36Z"/><path d="M432.05 157.19L433.67 159.44L432.05 161.69L430.43 159.44Z"/><path d="M434.15 157.41L435.77 159.66L434.15 161.91L432.53 159.66Z"/><path d="M436.25 157.22L437.87 159.47L436.25 161.72L434.63 159.47Z"/><path d="M438.35 157.42L439.97 159.67L438.35 161.92L436.73 159.67Z"/><path d="M440.46 157.50L442.08 159.75L440.46 162.00L438.84 159.75Z"/><path d="M442.56 157.04L444.18 159.29L442.56 161.54L440.94 159.29Z"/><path d="M444.66 157.43L446.28 159.68L444.66 161.93L443.04 159.68Z"/><path d="M446.77 156.76L448.39 159.01L446.77 161.26L445.15 159.01Z"/><path d="M448.87 156.89L450.49 159.14L448.87 161.39L447.25 159.14Z"/><path d="M450.97 157.68L452.59 159.93L450.97 162.18L449.35 159.93Z"/><path d="M453.08 157.02L454.70 159.27L453.08 161.52L451.46 159.27Z"/><path d="M455.18 157.42L456.80 159.67L455.18 161.92L453.56 159.67Z"/><path d="M457.28 157.09L458.90 159.34L457.28 161.59L455.66 159.34Z"/><path d="M459.38 157.09L461.00 159.34L459.38 161.59L457.76 159.34Z"/><path d="M461.49 157.68L463.11 159.93L461.49 162.18L459.87 159.93Z"/><path d="M463.59 157.17L465.21 159.42L463.59 161.67L461.97 159.42Z"/><path d="M465.69 157.18L467.31 159.43L465.69 161.68L464.07 159.43Z"/><path d="M467.80 156.82L469.42 159.07L467.80 161.32L466.18 159.07Z"/><path d="M469.90 157.45L471.52 159.70L469.90 161.95L468.28 159.70Z"/><path d="M472.00 156.89L473.62 159.14L472.00 161.39L470.38 159.14Z"/><path d="M474.11 157.42L475.73 159.67L474.11 161.92L472.49 159.67Z"/><path d="M476.21 157.20L477.83 159.45L476.21 161.70L474.59 159.45Z"/><path d="M478.31 157.35L479.93 159.60L478.31 161.85L476.69 159.60Z"/><path d="M480.42 156.68L482.04 158.93L480.42 161.18L478.80 158.93Z"/><path d="M482.52 156.94L484.14 159.19L482.52 161.44L480.90 159.19Z"/><path d="M484.62 156.39L486.24 158.64L484.62 160.89L483.00 158.64Z"/><path d="M486.72 156.91L488.34 159.16L486.72 161.41L485.10 159.16Z"/><path d="M488.83 156.86L490.45 159.11L488.83 161.36L487.21 159.11Z"/><path d="M490.93 156.86L492.55 159.11L490.93 161.36L489.31 159.11Z"/><path d="M493.03 157.28L494.65 159.53L493.03 161.78L491.41 159.53Z"/><path d="M495.14 157.12L496.76 159.37L495.14 161.62L493.52 159.37Z"/><path d="M497.24 156.71L498.86 158.96L497.24 161.21L495.62 158.96Z"/><path d="M499.34 157.22L500.96 159.47L499.34 161.72L497.72 159.47Z"/><path d="M501.45 157.05L503.07 159.30L501.45 161.55L499.83 159.30Z"/><path d="M503.55 157.11L505.17 159.36L503.55 161.61L501.93 159.36Z"/><path d="M505.65 156.92L507.27 159.17L505.65 161.42L504.03 159.17Z"/><path d="M507.75 157.21L509.37 159.46L507.75 161.71L506.13 159.46Z"/><path d="M509.86 157.15L511.48 159.40L509.86 161.65L508.24 159.40Z"/><path d="M511.96 157.03L513.58 159.28L511.96 161.53L510.34 159.28Z"/><path d="M514.06 157.07L515.68 159.32L514.06 161.57L512.44 159.32Z"/><path d="M516.17 157.35L517.79 159.60L516.17 161.85L514.55 159.60Z"/><path d="M518.27 156.84L519.89 159.09L518.27 161.34L516.65 159.09Z"/><path d="M520.37 157.48L521.99 159.73L520.37 161.98L518.75 159.73Z"/><path d="M522.48 157.45L524.10 159.70L522.48 161.95L520.86 159.70Z"/><path d="M524.58 157.48L526.20 159.73L524.58 161.98L522.96 159.73Z"/><path d="M526.68 156.82L528.30 159.07L526.68 161.32L525.06 159.07Z"/><path d="M528.78 157.21L530.40 159.46L528.78 161.71L527.16 159.46Z"/><path d="M530.89 157.38L532.51 159.63L530.89 161.88L529.27 159.63Z"/><path d="M532.99 157.43L534.61 159.68L532.99 161.93L531.37 159.68Z"/><path d="M535.09 156.98L536.71 159.23L535.09 161.48L533.47 159.23Z"/><path d="M537.20 157.41L538.82 159.66L537.20 161.91L535.58 159.66Z"/><path d="M539.30 157.47L540.92 159.72L539.30 161.97L537.68 159.72Z"/></g>
<path d="M331.10 162.00L333.20 167.04L335.31 166.91L337.41 166.78L339.51 166.64L341.62 166.38L343.72 166.38L345.82 166.38L347.92 166.38L350.03 166.38L352.13 166.38L354.23 166.38L356.34 166.51L358.44 166.78L360.54 166.91L362.65 167.37L364.75 167.32L366.85 167.61L368.95 167.45L371.06 167.37L373.16 167.35L375.26 167.40L377.37 167.34L379.47 167.42L381.57 167.40L383.68 167.43L385.78 167.51L387.88 167.50L389.98 167.41L392.09 167.48L394.19 167.36L396.29 167.35L398.40 167.32L400.50 167.44L402.60 167.35L404.71 167.50L406.81 167.49L408.91 167.43L411.02 167.42L413.12 167.55L415.22 167.55L417.32 167.42L419.43 167.50L421.53 167.36L423.63 167.41L425.74 167.42L427.84 167.43L429.94 167.38L432.05 167.45L434.15 167.37L436.25 167.47L438.35 167.45L440.46 167.48L442.56 167.40L444.66 167.44L446.77 167.50L448.87 167.31L450.97 167.46L453.08 167.45L455.18 167.41L457.28 167.32L459.38 167.45L461.49 167.39L463.59 167.43L465.69 167.54L467.80 167.39L469.90 167.37L472.00 167.46L474.11 167.44L476.21 167.54L478.31 167.54L480.42 167.47L482.52 167.40L484.62 167.47L486.72 167.42L488.83 167.38L490.93 167.43L493.03 167.40L495.14 167.34L497.24 167.52L499.34 167.39L501.45 167.56L503.55 167.41L505.65 167.43L507.75 167.48L509.86 167.51L511.96 167.44L514.06 167.47L516.17 167.43L518.27 167.50L520.37 167.40L522.48 167.51L524.58 167.46L526.68 167.47L528.78 167.36L530.89 167.54L532.99 167.47L535.09 167.36L537.20 167.48L539.30 167.52" stroke="#ff0000" stroke-width="0.6" fill="none" stroke-dasharray="3.6 0.9 0.8 0.9"/>
<g fill="none" stroke="#ff0000" stroke-width="0.95"><circle cx="331.10" cy="162.00" r="1.50"/><circle cx="333.20" cy="167.04" r="1.50"/><circle cx="335.31" cy="166.91" r="1.50"/><circle cx="337.41" cy="166.78" r="1.50"/><circle cx="339.51" cy="166.64" r="1.50"/><circle cx="341.62" cy="166.38" r="1.50"/><circle cx="343.72" cy="166.38" r="1.50"/><circle cx="345.82" cy="166.38" r="1.50"/><circle cx="347.92" cy="166.38" r="1.50"/><circle cx="350.03" cy="166.38" r="1.50"/><circle cx="352.13" cy="166.38" r="1.50"/><circle cx="354.23" cy="166.38" r="1.50"/><circle cx="356.34" cy="166.51" r="1.50"/><circle cx="358.44" cy="166.78" r="1.50"/><circle cx="360.54" cy="166.91" r="1.50"/><circle cx="362.65" cy="167.37" r="1.50"/><circle cx="364.75" cy="167.32" r="1.50"/><circle cx="366.85" cy="167.61" r="1.50"/><circle cx="368.95" cy="167.45" r="1.50"/><circle cx="371.06" cy="167.37" r="1.50"/><circle cx="373.16" cy="167.35" r="1.50"/><circle cx="375.26" cy="167.40" r="1.50"/><circle cx="377.37" cy="167.34" r="1.50"/><circle cx="379.47" cy="167.42" r="1.50"/><circle cx="381.57" cy="167.40" r="1.50"/><circle cx="383.68" cy="167.43" r="1.50"/><circle cx="385.78" cy="167.51" r="1.50"/><circle cx="387.88" cy="167.50" r="1.50"/><circle cx="389.98" cy="167.41" r="1.50"/><circle cx="392.09" cy="167.48" r="1.50"/><circle cx="394.19" cy="167.36" r="1.50"/><circle cx="396.29" cy="167.35" r="1.50"/><circle cx="398.40" cy="167.32" r="1.50"/><circle cx="400.50" cy="167.44" r="1.50"/><circle cx="402.60" cy="167.35" r="1.50"/><circle cx="404.71" cy="167.50" r="1.50"/><circle cx="406.81" cy="167.49" r="1.50"/><circle cx="408.91" cy="167.43" r="1.50"/><circle cx="411.02" cy="167.42" r="1.50"/><circle cx="413.12" cy="167.55" r="1.50"/><circle cx="415.22" cy="167.55" r="1.50"/><circle cx="417.32" cy="167.42" r="1.50"/><circle cx="419.43" cy="167.50" r="1.50"/><circle cx="421.53" cy="167.36" r="1.50"/><circle cx="423.63" cy="167.41" r="1.50"/><circle cx="425.74" cy="167.42" r="1.50"/><circle cx="427.84" cy="167.43" r="1.50"/><circle cx="429.94" cy="167.38" r="1.50"/><circle cx="432.05" cy="167.45" r="1.50"/><circle cx="434.15" cy="167.37" r="1.50"/><circle cx="436.25" cy="167.47" r="1.50"/><circle cx="438.35" cy="167.45" r="1.50"/><circle cx="440.46" cy="167.48" r="1.50"/><circle cx="442.56" cy="167.40" r="1.50"/><circle cx="444.66" cy="167.44" r="1.50"/><circle cx="446.77" cy="167.50" r="1.50"/><circle cx="448.87" cy="167.31" r="1.50"/><circle cx="450.97" cy="167.46" r="1.50"/><circle cx="453.08" cy="167.45" r="1.50"/><circle cx="455.18" cy="167.41" r="1.50"/><circle cx="457.28" cy="167.32" r="1.50"/><circle cx="459.38" cy="167.45" r="1.50"/><circle cx="461.49" cy="167.39" r="1.50"/><circle cx="463.59" cy="167.43" r="1.50"/><circle cx="465.69" cy="167.54" r="1.50"/><circle cx="467.80" cy="167.39" r="1.50"/><circle cx="469.90" cy="167.37" r="1.50"/><circle cx="472.00" cy="167.46" r="1.50"/><circle cx="474.11" cy="167.44" r="1.50"/><circle cx="476.21" cy="167.54" r="1.50"/><circle cx="478.31" cy="167.54" r="1.50"/><circle cx="480.42" cy="167.47" r="1.50"/><circle cx="482.52" cy="167.40" r="1.50"/><circle cx="484.62" cy="167.47" r="1.50"/><circle cx="486.72" cy="167.42" r="1.50"/><circle cx="488.83" cy="167.38" r="1.50"/><circle cx="490.93" cy="167.43" r="1.50"/><circle cx="493.03" cy="167.40" r="1.50"/><circle cx="495.14" cy="167.34" r="1.50"/><circle cx="497.24" cy="167.52" r="1.50"/><circle cx="499.34" cy="167.39" r="1.50"/><circle cx="501.45" cy="167.56" r="1.50"/><circle cx="503.55" cy="167.41" r="1.50"/><circle cx="505.65" cy="167.43" r="1.50"/><circle cx="507.75" cy="167.48" r="1.50"/><circle cx="509.86" cy="167.51" r="1.50"/><circle cx="511.96" cy="167.44" r="1.50"/><circle cx="514.06" cy="167.47" r="1.50"/><circle cx="516.17" cy="167.43" r="1.50"/><circle cx="518.27" cy="167.50" r="1.50"/><circle cx="520.37" cy="167.40" r="1.50"/><circle cx="522.48" cy="167.51" r="1.50"/><circle cx="524.58" cy="167.46" r="1.50"/><circle cx="526.68" cy="167.47" r="1.50"/><circle cx="528.78" cy="167.36" r="1.50"/><circle cx="530.89" cy="167.54" r="1.50"/><circle cx="532.99" cy="167.47" r="1.50"/><circle cx="535.09" cy="167.36" r="1.50"/><circle cx="537.20" cy="167.48" r="1.50"/><circle cx="539.30" cy="167.52" r="1.50"/></g>
<rect x="443" y="16.4" width="89.60" height="33.00" fill="#fff" stroke="#9c9c9c" stroke-width="0.9"/>
<path d="M444.8 22.3H459.6" stroke="#00ff00" stroke-width="1.0"/>
<g fill="none" stroke="#00ff00" stroke-width="1.25"><path d="M452.20 19.93L453.91 22.30L452.20 24.68L450.49 22.30Z"/></g>
<text transform="translate(461 25.40) scale(0.885 1)" font-size="9.05" fill="#141414">Graph partition</text>
<path d="M444.8 32.9H459.6" stroke="#0000ff" stroke-width="0.6"/>
<g fill="none" stroke="#0000ff" stroke-width="1.25"><rect x="450.80" y="31.50" width="2.80" height="2.80"/></g>
<text transform="translate(461 36.00) scale(0.885 1)" font-size="9.05" fill="#141414">Distance partition</text>
<path d="M444.8 43.2H459.6" stroke="#ff0000" stroke-width="0.9" stroke-dasharray="3.6 0.9 0.8 0.9"/>
<g fill="none" stroke="#ff0000" stroke-width="1.25"><circle cx="452.20" cy="43.20" r="1.60"/></g>
<text transform="translate(461 46.30) scale(0.885 1)" font-size="9.05" fill="#141414">Proposed algorithm</text>
<path d="M66.59 238.5V394.0M107.84 238.5V394.0M149.09 238.5V394.0M190.35 238.5V394.0M27.4 355.12H231.6M27.4 316.25H231.6M27.4 277.38H231.6" stroke="#e8e8e8" stroke-width="0.8" fill="none"/>
<path d="M66.59 394.0v-2M66.59 238.5v2M107.84 394.0v-2M107.84 238.5v2M149.09 394.0v-2M149.09 238.5v2M190.35 394.0v-2M190.35 238.5v2M27.4 355.12h2M231.6 355.12h-2M27.4 316.25h2M231.6 316.25h-2M27.4 277.38h2M231.6 277.38h-2" stroke="#969696" stroke-width="0.8" fill="none"/>
<rect x="27.4" y="238.5" width="204.20" height="155.50" stroke="#969696" stroke-width="1" fill="none"/>
<text x="66.59" y="406.80" text-anchor="middle" font-size="8.6" fill="#141414">20</text>
<text x="107.84" y="406.80" text-anchor="middle" font-size="8.6" fill="#141414">40</text>
<text x="149.09" y="406.80" text-anchor="middle" font-size="8.6" fill="#141414">60</text>
<text x="190.35" y="406.80" text-anchor="middle" font-size="8.6" fill="#141414">80</text>
<text x="231.60" y="406.80" text-anchor="middle" font-size="8.6" fill="#141414">100</text>
<text x="24.20" y="397.70" text-anchor="end" font-size="8.6" fill="#141414">0</text>
<text x="24.20" y="358.82" text-anchor="end" font-size="8.6" fill="#141414">1</text>
<text x="24.20" y="319.95" text-anchor="end" font-size="8.6" fill="#141414">2</text>
<text x="24.20" y="281.07" text-anchor="end" font-size="8.6" fill="#141414">3</text>
<text x="24.20" y="242.20" text-anchor="end" font-size="8.6" fill="#141414">4</text>
<text x="129.50" y="419.2" text-anchor="middle" font-size="9.6" fill="#141414">Time (s)</text>
<text transform="translate(15.0 315.7) rotate(-90)" text-anchor="middle" font-size="9.8" fill="#141414" xml:space="preserve">Targets number</text>
<path d="M27.40 277.38L29.46 277.38L31.53 277.38L33.59 277.38L35.65 277.38L37.71 277.38L39.78 277.38L41.84 277.38L43.90 277.38L45.96 277.38L48.03 277.38L50.09 277.38L52.15 277.38L54.21 277.38L56.28 277.38L58.34 277.38L60.40 277.38L62.46 277.38L64.53 277.38L66.59 277.38L68.65 277.38L70.72 277.38L72.78 277.38L74.84 277.38L76.90 277.38L78.97 277.38L81.03 277.38L83.09 277.38L85.15 277.38L87.22 277.38L89.28 277.38L91.34 277.38L93.40 277.38L95.47 277.38L97.53 277.38L99.59 277.38L101.65 277.38L103.72 277.38L105.78 277.38L107.84 277.38L109.91 277.38L111.97 277.38L114.03 277.38L116.09 277.38L118.16 277.38L120.22 277.38L122.28 277.38L124.34 277.38L126.41 277.38L128.47 277.38L130.53 277.38L132.59 277.38L134.66 277.38L136.72 277.38L138.78 277.38L140.84 277.38L142.91 277.38L144.97 277.38L147.03 277.38L149.09 277.38L151.16 277.38L153.22 277.38L155.28 277.38L157.35 277.38L159.41 277.38L161.47 277.38L163.53 277.38L165.60 277.38L167.66 277.38L169.72 277.38L171.78 277.38L173.85 277.38L175.91 277.38L177.97 277.38L180.03 277.38L182.10 277.38L184.16 277.38L186.22 277.38L188.28 277.38L190.35 277.38L192.41 277.38L194.47 277.38L196.54 277.38L198.60 277.38L200.66 277.38L202.72 277.38L204.79 277.38L206.85 277.38L208.91 277.38L210.97 277.38L213.04 277.38L215.10 277.38L217.16 277.38L219.22 277.38L221.29 277.38L223.35 277.38L225.41 277.38L227.47 277.38L229.54 277.38L231.60 277.38" stroke="#808080" stroke-width="0.7" fill="none"/>
<path d="M27.40 279.32L29.46 281.72L31.53 281.74L33.59 280.95L35.65 282.48L37.71 284.37L39.78 281.42L41.84 284.76L43.90 281.42L45.96 281.76L48.03 281.28L50.09 280.72L52.15 281.35L54.21 283.98L56.28 281.19L58.34 281.15L60.40 280.71L62.46 285.15L64.53 284.37L66.59 280.91L68.65 280.96L70.72 280.88L72.78 281.95L74.84 280.96L76.90 280.77L78.97 280.87L81.03 280.80L83.09 280.85L85.15 282.09L87.22 281.89L89.28 284.37L91.34 282.42L93.40 280.74L95.47 281.81L97.53 281.08L99.59 281.89L101.65 281.89L103.72 281.35L105.78 283.98L107.84 281.64L109.91 281.60L111.97 281.31L114.03 281.85L116.09 281.72L118.16 280.68L120.22 280.70L122.28 281.36L124.34 281.45L126.41 281.40L128.47 280.80L130.53 281.56L132.59 280.74L134.66 281.57L136.72 281.61L138.78 282.33L140.84 280.70L142.91 281.18L144.97 282.65L147.03 281.29L149.09 280.77L151.16 285.15L153.22 281.26L155.28 281.53L157.35 284.37L159.41 282.05L161.47 280.95L163.53 280.95L165.60 281.01L167.66 281.17L169.72 280.82L171.78 281.75L173.85 285.54L175.91 280.91L177.97 282.19L180.03 284.76L182.10 281.09L184.16 285.15L186.22 281.11L188.28 281.17L190.35 282.28L192.41 282.54L194.47 281.01L196.54 281.66L198.60 284.37L200.66 282.09L202.72 281.08L204.79 280.72L206.85 284.76L208.91 280.97L210.97 281.06L213.04 280.85L215.10 281.94L217.16 281.06L219.22 280.80L221.29 281.65L223.35 280.74L225.41 281.20L227.47 280.92L229.54 281.16L231.60 281.16" stroke="#00ff00" stroke-width="0.6" fill="none"/>
<g fill="none" stroke="#00ff00" stroke-width="1.15"><path d="M27.40 277.07L29.02 279.32L27.40 281.57L25.78 279.32Z"/><path d="M29.46 279.47L31.08 281.72L29.46 283.97L27.84 281.72Z"/><path d="M31.53 279.49L33.15 281.74L31.53 283.99L29.91 281.74Z"/><path d="M33.59 278.70L35.21 280.95L33.59 283.20L31.97 280.95Z"/><path d="M35.65 280.23L37.27 282.48L35.65 284.73L34.03 282.48Z"/><path d="M37.71 282.12L39.33 284.37L37.71 286.62L36.09 284.37Z"/><path d="M39.78 279.17L41.40 281.42L39.78 283.67L38.16 281.42Z"/><path d="M41.84 282.51L43.46 284.76L41.84 287.01L40.22 284.76Z"/><path d="M43.90 279.17L45.52 281.42L43.90 283.67L42.28 281.42Z"/><path d="M45.96 279.51L47.58 281.76L45.96 284.01L44.34 281.76Z"/><path d="M48.03 279.03L49.65 281.28L48.03 283.53L46.41 281.28Z"/><path d="M50.09 278.47L51.71 280.72L50.09 282.97L48.47 280.72Z"/><path d="M52.15 279.10L53.77 281.35L52.15 283.60L50.53 281.35Z"/><path d="M54.21 281.73L55.83 283.98L54.21 286.23L52.59 283.98Z"/><path d="M56.28 278.94L57.90 281.19L56.28 283.44L54.66 281.19Z"/><path d="M58.34 278.90L59.96 281.15L58.34 283.40L56.72 281.15Z"/><path d="M60.40 278.46L62.02 280.71L60.40 282.96L58.78 280.71Z"/><path d="M62.46 282.90L64.08 285.15L62.46 287.40L60.84 285.15Z"/><path d="M64.53 282.12L66.15 284.37L64.53 286.62L62.91 284.37Z"/><path d="M66.59 278.66L68.21 280.91L66.59 283.16L64.97 280.91Z"/><path d="M68.65 278.71L70.27 280.96L68.65 283.21L67.03 280.96Z"/><path d="M70.72 278.63L72.34 280.88L70.72 283.13L69.10 280.88Z"/><path d="M72.78 279.70L74.40 281.95L72.78 284.20L71.16 281.95Z"/><path d="M74.84 278.71L76.46 280.96L74.84 283.21L73.22 280.96Z"/><path d="M76.90 278.52L78.52 280.77L76.90 283.02L75.28 280.77Z"/><path d="M78.97 278.62L80.59 280.87L78.97 283.12L77.35 280.87Z"/><path d="M81.03 278.55L82.65 280.80L81.03 283.05L79.41 280.80Z"/><path d="M83.09 278.60L84.71 280.85L83.09 283.10L81.47 280.85Z"/><path d="M85.15 279.84L86.77 282.09L85.15 284.34L83.53 282.09Z"/><path d="M87.22 279.64L88.84 281.89L87.22 284.14L85.60 281.89Z"/><path d="M89.28 282.12L90.90 284.37L89.28 286.62L87.66 284.37Z"/><path d="M91.34 280.17L92.96 282.42L91.34 284.67L89.72 282.42Z"/><path d="M93.40 278.49L95.02 280.74L93.40 282.99L91.78 280.74Z"/><path d="M95.47 279.56L97.09 281.81L95.47 284.06L93.85 281.81Z"/><path d="M97.53 278.83L99.15 281.08L97.53 283.33L95.91 281.08Z"/><path d="M99.59 279.64L101.21 281.89L99.59 284.14L97.97 281.89Z"/><path d="M101.65 279.64L103.27 281.89L101.65 284.14L100.03 281.89Z"/><path d="M103.72 279.10L105.34 281.35L103.72 283.60L102.10 281.35Z"/><path d="M105.78 281.73L107.40 283.98L105.78 286.23L104.16 283.98Z"/><path d="M107.84 279.39L109.46 281.64L107.84 283.89L106.22 281.64Z"/><path d="M109.91 279.35L111.53 281.60L109.91 283.85L108.29 281.60Z"/><path d="M111.97 279.06L113.59 281.31L111.97 283.56L110.35 281.31Z"/><path d="M114.03 279.60L115.65 281.85L114.03 284.10L112.41 281.85Z"/><path d="M116.09 279.47L117.71 281.72L116.09 283.97L114.47 281.72Z"/><path d="M118.16 278.43L119.78 280.68L118.16 282.93L116.54 280.68Z"/><path d="M120.22 278.45L121.84 280.70L120.22 282.95L118.60 280.70Z"/><path d="M122.28 279.11L123.90 281.36L122.28 283.61L120.66 281.36Z"/><path d="M124.34 279.20L125.96 281.45L124.34 283.70L122.72 281.45Z"/><path d="M126.41 279.15L128.03 281.40L126.41 283.65L124.79 281.40Z"/><path d="M128.47 278.55L130.09 280.80L128.47 283.05L126.85 280.80Z"/><path d="M130.53 279.31L132.15 281.56L130.53 283.81L128.91 281.56Z"/><path d="M132.59 278.49L134.21 280.74L132.59 282.99L130.97 280.74Z"/><path d="M134.66 279.32L136.28 281.57L134.66 283.82L133.04 281.57Z"/><path d="M136.72 279.36L138.34 281.61L136.72 283.86L135.10 281.61Z"/><path d="M138.78 280.08L140.40 282.33L138.78 284.58L137.16 282.33Z"/><path d="M140.84 278.45L142.46 280.70L140.84 282.95L139.22 280.70Z"/><path d="M142.91 278.93L144.53 281.18L142.91 283.43L141.29 281.18Z"/><path d="M144.97 280.40L146.59 282.65L144.97 284.90L143.35 282.65Z"/><path d="M147.03 279.04L148.65 281.29L147.03 283.54L145.41 281.29Z"/><path d="M149.09 278.52L150.71 280.77L149.09 283.02L147.47 280.77Z"/><path d="M151.16 282.90L152.78 285.15L151.16 287.40L149.54 285.15Z"/><path d="M153.22 279.01L154.84 281.26L153.22 283.51L151.60 281.26Z"/><path d="M155.28 279.28L156.90 281.53L155.28 283.78L153.66 281.53Z"/><path d="M157.35 282.12L158.97 284.37L157.35 286.62L155.73 284.37Z"/><path d="M159.41 279.80L161.03 282.05L159.41 284.30L157.79 282.05Z"/><path d="M161.47 278.70L163.09 280.95L161.47 283.20L159.85 280.95Z"/><path d="M163.53 278.70L165.15 280.95L163.53 283.20L161.91 280.95Z"/><path d="M165.60 278.76L167.22 281.01L165.60 283.26L163.98 281.01Z"/><path d="M167.66 278.92L169.28 281.17L167.66 283.42L166.04 281.17Z"/><path d="M169.72 278.57L171.34 280.82L169.72 283.07L168.10 280.82Z"/><path d="M171.78 279.50L173.40 281.75L171.78 284.00L170.16 281.75Z"/><path d="M173.85 283.29L175.47 285.54L173.85 287.79L172.23 285.54Z"/><path d="M175.91 278.66L177.53 280.91L175.91 283.16L174.29 280.91Z"/><path d="M177.97 279.94L179.59 282.19L177.97 284.44L176.35 282.19Z"/><path d="M180.03 282.51L181.65 284.76L180.03 287.01L178.41 284.76Z"/><path d="M182.10 278.84L183.72 281.09L182.10 283.34L180.48 281.09Z"/><path d="M184.16 282.90L185.78 285.15L184.16 287.40L182.54 285.15Z"/><path d="M186.22 278.86L187.84 281.11L186.22 283.36L184.60 281.11Z"/><path d="M188.28 278.92L189.90 281.17L188.28 283.42L186.66 281.17Z"/><path d="M190.35 280.03L191.97 282.28L190.35 284.53L188.73 282.28Z"/><path d="M192.41 280.29L194.03 282.54L192.41 284.79L190.79 282.54Z"/><path d="M194.47 278.76L196.09 281.01L194.47 283.26L192.85 281.01Z"/><path d="M196.54 279.41L198.16 281.66L196.54 283.91L194.92 281.66Z"/><path d="M198.60 282.12L200.22 284.37L198.60 286.62L196.98 284.37Z"/><path d="M200.66 279.84L202.28 282.09L200.66 284.34L199.04 282.09Z"/><path d="M202.72 278.83L204.34 281.08L202.72 283.33L201.10 281.08Z"/><path d="M204.79 278.47L206.41 280.72L204.79 282.97L203.17 280.72Z"/><path d="M206.85 282.51L208.47 284.76L206.85 287.01L205.23 284.76Z"/><path d="M208.91 278.72L210.53 280.97L208.91 283.22L207.29 280.97Z"/><path d="M210.97 278.81L212.59 281.06L210.97 283.31L209.35 281.06Z"/><path d="M213.04 278.60L214.66 280.85L213.04 283.10L211.42 280.85Z"/><path d="M215.10 279.69L216.72 281.94L215.10 284.19L213.48 281.94Z"/><path d="M217.16 278.81L218.78 281.06L217.16 283.31L215.54 281.06Z"/><path d="M219.22 278.55L220.84 280.80L219.22 283.05L217.60 280.80Z"/><path d="M221.29 279.40L222.91 281.65L221.29 283.90L219.67 281.65Z"/><path d="M223.35 278.49L224.97 280.74L223.35 282.99L221.73 280.74Z"/><path d="M225.41 278.95L227.03 281.20L225.41 283.45L223.79 281.20Z"/><path d="M227.47 278.67L229.09 280.92L227.47 283.17L225.85 280.92Z"/><path d="M229.54 278.91L231.16 281.16L229.54 283.41L227.92 281.16Z"/><path d="M231.60 278.91L233.22 281.16L231.60 283.41L229.98 281.16Z"/></g>
<path d="M27.40 275.43L29.46 275.47L31.53 272.32L33.59 274.78L35.65 275.29L37.71 274.66L39.78 275.75L41.84 274.26L43.90 271.15L45.96 275.10L48.03 275.25L50.09 275.40L52.15 275.70L54.21 274.73L56.28 271.54L58.34 275.01L60.40 274.25L62.46 275.29L64.53 273.60L66.59 274.32L68.65 273.67L70.72 275.55L72.78 274.34L74.84 275.50L76.90 275.64L78.97 275.60L81.03 272.88L83.09 275.19L85.15 275.76L87.22 272.32L89.28 274.04L91.34 275.26L93.40 274.68L95.47 274.88L97.53 274.58L99.59 274.88L101.65 275.78L103.72 274.79L105.78 271.93L107.84 275.69L109.91 275.69L111.97 275.75L114.03 274.39L116.09 275.73L118.16 274.24L120.22 274.02L122.28 272.71L124.34 275.68L126.41 275.07L128.47 273.49L130.53 274.93L132.59 274.42L134.66 275.73L136.72 275.15L138.78 275.60L140.84 275.02L142.91 275.74L144.97 275.04L147.03 274.14L149.09 275.03L151.16 275.58L153.22 273.10L155.28 275.67L157.35 274.44L159.41 275.14L161.47 275.59L163.53 274.77L165.60 274.48L167.66 274.28L169.72 274.89L171.78 275.07L173.85 273.50L175.91 275.28L177.97 275.71L180.03 274.35L182.10 275.02L184.16 275.44L186.22 275.39L188.28 275.53L190.35 274.04L192.41 275.32L194.47 270.77L196.54 271.93L198.60 275.68L200.66 275.59L202.72 274.52L204.79 275.81L206.85 275.30L208.91 274.46L210.97 275.06L213.04 275.79L215.10 275.04L217.16 275.42L219.22 274.59L221.29 272.32L223.35 275.14L225.41 274.31L227.47 275.42L229.54 273.85L231.60 273.45" stroke="#0000ff" stroke-width="0.6" fill="none"/>
<g fill="none" stroke="#0000ff" stroke-width="0.95"><rect x="25.90" y="273.93" width="3.00" height="3.00"/><rect x="27.96" y="273.97" width="3.00" height="3.00"/><rect x="30.03" y="270.82" width="3.00" height="3.00"/><rect x="32.09" y="273.28" width="3.00" height="3.00"/><rect x="34.15" y="273.79" width="3.00" height="3.00"/><rect x="36.21" y="273.16" width="3.00" height="3.00"/><rect x="38.28" y="274.25" width="3.00" height="3.00"/><rect x="40.34" y="272.76" width="3.00" height="3.00"/><rect x="42.40" y="269.65" width="3.00" height="3.00"/><rect x="44.46" y="273.60" width="3.00" height="3.00"/><rect x="46.53" y="273.75" width="3.00" height="3.00"/><rect x="48.59" y="273.90" width="3.00" height="3.00"/><rect x="50.65" y="274.20" width="3.00" height="3.00"/><rect x="52.71" y="273.23" width="3.00" height="3.00"/><rect x="54.78" y="270.04" width="3.00" height="3.00"/><rect x="56.84" y="273.51" width="3.00" height="3.00"/><rect x="58.90" y="272.75" width="3.00" height="3.00"/><rect x="60.96" y="273.79" width="3.00" height="3.00"/><rect x="63.03" y="272.10" width="3.00" height="3.00"/><rect x="65.09" y="272.82" width="3.00" height="3.00"/><rect x="67.15" y="272.17" width="3.00" height="3.00"/><rect x="69.22" y="274.05" width="3.00" height="3.00"/><rect x="71.28" y="272.84" width="3.00" height="3.00"/><rect x="73.34" y="274.00" width="3.00" height="3.00"/><rect x="75.40" y="274.14" width="3.00" height="3.00"/><rect x="77.47" y="274.10" width="3.00" height="3.00"/><rect x="79.53" y="271.38" width="3.00" height="3.00"/><rect x="81.59" y="273.69" width="3.00" height="3.00"/><rect x="83.65" y="274.26" width="3.00" height="3.00"/><rect x="85.72" y="270.82" width="3.00" height="3.00"/><rect x="87.78" y="272.54" width="3.00" height="3.00"/><rect x="89.84" y="273.76" width="3.00" height="3.00"/><rect x="91.90" y="273.18" width="3.00" height="3.00"/><rect x="93.97" y="273.38" width="3.00" height="3.00"/><rect x="96.03" y="273.08" width="3.00" height="3.00"/><rect x="98.09" y="273.38" width="3.00" height="3.00"/><rect x="100.15" y="274.28" width="3.00" height="3.00"/><rect x="102.22" y="273.29" width="3.00" height="3.00"/><rect x="104.28" y="270.43" width="3.00" height="3.00"/><rect x="106.34" y="274.19" width="3.00" height="3.00"/><rect x="108.41" y="274.19" width="3.00" height="3.00"/><rect x="110.47" y="274.25" width="3.00" height="3.00"/><rect x="112.53" y="272.89" width="3.00" height="3.00"/><rect x="114.59" y="274.23" width="3.00" height="3.00"/><rect x="116.66" y="272.74" width="3.00" height="3.00"/><rect x="118.72" y="272.52" width="3.00" height="3.00"/><rect x="120.78" y="271.21" width="3.00" height="3.00"/><rect x="122.84" y="274.18" width="3.00" height="3.00"/><rect x="124.91" y="273.57" width="3.00" height="3.00"/><rect x="126.97" y="271.99" width="3.00" height="3.00"/><rect x="129.03" y="273.43" width="3.00" height="3.00"/><rect x="131.09" y="272.92" width="3.00" height="3.00"/><rect x="133.16" y="274.23" width="3.00" height="3.00"/><rect x="135.22" y="273.65" width="3.00" height="3.00"/><rect x="137.28" y="274.10" width="3.00" height="3.00"/><rect x="139.34" y="273.52" width="3.00" height="3.00"/><rect x="141.41" y="274.24" width="3.00" height="3.00"/><rect x="143.47" y="273.54" width="3.00" height="3.00"/><rect x="145.53" y="272.64" width="3.00" height="3.00"/><rect x="147.59" y="273.53" width="3.00" height="3.00"/><rect x="149.66" y="274.08" width="3.00" height="3.00"/><rect x="151.72" y="271.60" width="3.00" height="3.00"/><rect x="153.78" y="274.17" width="3.00" height="3.00"/><rect x="155.85" y="272.94" width="3.00" height="3.00"/><rect x="157.91" y="273.64" width="3.00" height="3.00"/><rect x="159.97" y="274.09" width="3.00" height="3.00"/><rect x="162.03" y="273.27" width="3.00" height="3.00"/><rect x="164.10" y="272.98" width="3.00" height="3.00"/><rect x="166.16" y="272.78" width="3.00" height="3.00"/><rect x="168.22" y="273.39" width="3.00" height="3.00"/><rect x="170.28" y="273.57" width="3.00" height="3.00"/><rect x="172.35" y="272.00" width="3.00" height="3.00"/><rect x="174.41" y="273.78" width="3.00" height="3.00"/><rect x="176.47" y="274.21" width="3.00" height="3.00"/><rect x="178.53" y="272.85" width="3.00" height="3.00"/><rect x="180.60" y="273.52" width="3.00" height="3.00"/><rect x="182.66" y="273.94" width="3.00" height="3.00"/><rect x="184.72" y="273.89" width="3.00" height="3.00"/><rect x="186.78" y="274.03" width="3.00" height="3.00"/><rect x="188.85" y="272.54" width="3.00" height="3.00"/><rect x="190.91" y="273.82" width="3.00" height="3.00"/><rect x="192.97" y="269.27" width="3.00" height="3.00"/><rect x="195.04" y="270.43" width="3.00" height="3.00"/><rect x="197.10" y="274.18" width="3.00" height="3.00"/><rect x="199.16" y="274.09" width="3.00" height="3.00"/><rect x="201.22" y="273.02" width="3.00" height="3.00"/><rect x="203.29" y="274.31" width="3.00" height="3.00"/><rect x="205.35" y="273.80" width="3.00" height="3.00"/><rect x="207.41" y="272.96" width="3.00" height="3.00"/><rect x="209.47" y="273.56" width="3.00" height="3.00"/><rect x="211.54" y="274.29" width="3.00" height="3.00"/><rect x="213.60" y="273.54" width="3.00" height="3.00"/><rect x="215.66" y="273.92" width="3.00" height="3.00"/><rect x="217.72" y="273.09" width="3.00" height="3.00"/><rect x="219.79" y="270.82" width="3.00" height="3.00"/><rect x="221.85" y="273.64" width="3.00" height="3.00"/><rect x="223.91" y="272.81" width="3.00" height="3.00"/><rect x="225.97" y="273.92" width="3.00" height="3.00"/><rect x="228.04" y="272.35" width="3.00" height="3.00"/><rect x="230.10" y="271.95" width="3.00" height="3.00"/></g>
<path d="M27.40 280.49L29.46 277.38L31.53 275.04L33.59 275.04L35.65 275.82L37.71 276.21L39.78 277.38L41.84 278.08L43.90 278.46L45.96 278.73L48.03 279.42L50.09 277.41L52.15 278.26L54.21 276.76L56.28 277.75L58.34 278.07L60.40 278.61L62.46 277.42L64.53 278.53L66.59 277.31L68.65 278.46L70.72 278.12L72.78 279.12L74.84 276.86L76.90 278.29L78.97 278.45L81.03 277.76L83.09 278.75L85.15 277.78L87.22 278.91L89.28 277.91L91.34 278.84L93.40 279.30L95.47 278.58L97.53 279.08L99.59 277.91L101.65 278.22L103.72 277.93L105.78 278.18L107.84 278.44L109.91 278.21L111.97 277.62L114.03 278.34L116.09 278.67L118.16 278.80L120.22 278.36L122.28 278.67L124.34 277.13L126.41 278.92L128.47 278.86L130.53 278.41L132.59 277.85L134.66 278.39L136.72 278.79L138.78 278.70L140.84 278.43L142.91 277.66L144.97 278.80L147.03 278.28L149.09 278.59L151.16 278.04L153.22 278.00L155.28 279.08L157.35 276.84L159.41 278.12L161.47 278.53L163.53 278.75L165.60 278.38L167.66 278.21L169.72 277.88L171.78 278.23L173.85 277.95L175.91 279.17L177.97 278.67L180.03 278.82L182.10 278.13L184.16 277.96L186.22 279.09L188.28 278.33L190.35 277.81L192.41 277.70L194.47 278.88L196.54 277.90L198.60 278.03L200.66 278.48L202.72 277.09L204.79 278.88L206.85 278.39L208.91 277.97L210.97 278.09L213.04 278.33L215.10 277.43L217.16 277.39L219.22 277.70L221.29 277.65L223.35 278.26L225.41 278.91L227.47 276.95L229.54 278.79L231.60 276.93" stroke="#ff0000" stroke-width="0.6" fill="none" stroke-dasharray="3.6 0.9 0.8 0.9"/>
<g fill="none" stroke="#ff0000" stroke-width="0.95"><circle cx="27.40" cy="280.49" r="1.50"/><circle cx="29.46" cy="277.38" r="1.50"/><circle cx="31.53" cy="275.04" r="1.50"/><circle cx="33.59" cy="275.04" r="1.50"/><circle cx="35.65" cy="275.82" r="1.50"/><circle cx="37.71" cy="276.21" r="1.50"/><circle cx="39.78" cy="277.38" r="1.50"/><circle cx="41.84" cy="278.08" r="1.50"/><circle cx="43.90" cy="278.46" r="1.50"/><circle cx="45.96" cy="278.73" r="1.50"/><circle cx="48.03" cy="279.42" r="1.50"/><circle cx="50.09" cy="277.41" r="1.50"/><circle cx="52.15" cy="278.26" r="1.50"/><circle cx="54.21" cy="276.76" r="1.50"/><circle cx="56.28" cy="277.75" r="1.50"/><circle cx="58.34" cy="278.07" r="1.50"/><circle cx="60.40" cy="278.61" r="1.50"/><circle cx="62.46" cy="277.42" r="1.50"/><circle cx="64.53" cy="278.53" r="1.50"/><circle cx="66.59" cy="277.31" r="1.50"/><circle cx="68.65" cy="278.46" r="1.50"/><circle cx="70.72" cy="278.12" r="1.50"/><circle cx="72.78" cy="279.12" r="1.50"/><circle cx="74.84" cy="276.86" r="1.50"/><circle cx="76.90" cy="278.29" r="1.50"/><circle cx="78.97" cy="278.45" r="1.50"/><circle cx="81.03" cy="277.76" r="1.50"/><circle cx="83.09" cy="278.75" r="1.50"/><circle cx="85.15" cy="277.78" r="1.50"/><circle cx="87.22" cy="278.91" r="1.50"/><circle cx="89.28" cy="277.91" r="1.50"/><circle cx="91.34" cy="278.84" r="1.50"/><circle cx="93.40" cy="279.30" r="1.50"/><circle cx="95.47" cy="278.58" r="1.50"/><circle cx="97.53" cy="279.08" r="1.50"/><circle cx="99.59" cy="277.91" r="1.50"/><circle cx="101.65" cy="278.22" r="1.50"/><circle cx="103.72" cy="277.93" r="1.50"/><circle cx="105.78" cy="278.18" r="1.50"/><circle cx="107.84" cy="278.44" r="1.50"/><circle cx="109.91" cy="278.21" r="1.50"/><circle cx="111.97" cy="277.62" r="1.50"/><circle cx="114.03" cy="278.34" r="1.50"/><circle cx="116.09" cy="278.67" r="1.50"/><circle cx="118.16" cy="278.80" r="1.50"/><circle cx="120.22" cy="278.36" r="1.50"/><circle cx="122.28" cy="278.67" r="1.50"/><circle cx="124.34" cy="277.13" r="1.50"/><circle cx="126.41" cy="278.92" r="1.50"/><circle cx="128.47" cy="278.86" r="1.50"/><circle cx="130.53" cy="278.41" r="1.50"/><circle cx="132.59" cy="277.85" r="1.50"/><circle cx="134.66" cy="278.39" r="1.50"/><circle cx="136.72" cy="278.79" r="1.50"/><circle cx="138.78" cy="278.70" r="1.50"/><circle cx="140.84" cy="278.43" r="1.50"/><circle cx="142.91" cy="277.66" r="1.50"/><circle cx="144.97" cy="278.80" r="1.50"/><circle cx="147.03" cy="278.28" r="1.50"/><circle cx="149.09" cy="278.59" r="1.50"/><circle cx="151.16" cy="278.04" r="1.50"/><circle cx="153.22" cy="278.00" r="1.50"/><circle cx="155.28" cy="279.08" r="1.50"/><circle cx="157.35" cy="276.84" r="1.50"/><circle cx="159.41" cy="278.12" r="1.50"/><circle cx="161.47" cy="278.53" r="1.50"/><circle cx="163.53" cy="278.75" r="1.50"/><circle cx="165.60" cy="278.38" r="1.50"/><circle cx="167.66" cy="278.21" r="1.50"/><circle cx="169.72" cy="277.88" r="1.50"/><circle cx="171.78" cy="278.23" r="1.50"/><circle cx="173.85" cy="277.95" r="1.50"/><circle cx="175.91" cy="279.17" r="1.50"/><circle cx="177.97" cy="278.67" r="1.50"/><circle cx="180.03" cy="278.82" r="1.50"/><circle cx="182.10" cy="278.13" r="1.50"/><circle cx="184.16" cy="277.96" r="1.50"/><circle cx="186.22" cy="279.09" r="1.50"/><circle cx="188.28" cy="278.33" r="1.50"/><circle cx="190.35" cy="277.81" r="1.50"/><circle cx="192.41" cy="277.70" r="1.50"/><circle cx="194.47" cy="278.88" r="1.50"/><circle cx="196.54" cy="277.90" r="1.50"/><circle cx="198.60" cy="278.03" r="1.50"/><circle cx="200.66" cy="278.48" r="1.50"/><circle cx="202.72" cy="277.09" r="1.50"/><circle cx="204.79" cy="278.88" r="1.50"/><circle cx="206.85" cy="278.39" r="1.50"/><circle cx="208.91" cy="277.97" r="1.50"/><circle cx="210.97" cy="278.09" r="1.50"/><circle cx="213.04" cy="278.33" r="1.50"/><circle cx="215.10" cy="277.43" r="1.50"/><circle cx="217.16" cy="277.39" r="1.50"/><circle cx="219.22" cy="277.70" r="1.50"/><circle cx="221.29" cy="277.65" r="1.50"/><circle cx="223.35" cy="278.26" r="1.50"/><circle cx="225.41" cy="278.91" r="1.50"/><circle cx="227.47" cy="276.95" r="1.50"/><circle cx="229.54" cy="278.79" r="1.50"/><circle cx="231.60" cy="276.93" r="1.50"/></g>
<rect x="95.5" y="297.4" width="120.50" height="32.00" fill="#fff" stroke="#262626" stroke-width="1"/>
<path d="M98.2 302.3H115.1" stroke="#9a9a9a" stroke-width="0.8"/>
<text x="117.0" y="306.40" font-family="Liberation Mono, monospace" font-size="8.8" fill="#555" xml:space="preserve">True value</text>
<path d="M98.2 310.0H115.1" stroke="#00ff00" stroke-width="1.2"/>
<g fill="none" stroke="#00ff00" stroke-width="1.2"><path d="M106.60 308.12L107.95 310.00L106.60 311.88L105.25 310.00Z"/></g>
<text x="117.0" y="314.10" font-family="Liberation Mono, monospace" font-size="8.8" fill="#555" xml:space="preserve">Graph partition</text>
<path d="M98.2 317.7H115.1" stroke="#0000ff" stroke-width="0.7"/>
<g fill="none" stroke="#0000ff" stroke-width="1.2"><circle cx="106.60" cy="317.70" r="1.50"/></g>
<text x="117.0" y="321.80" font-family="Liberation Mono, monospace" font-size="8.8" fill="#555" xml:space="preserve">Distance partition</text>
<path d="M98.2 325.5H115.1" stroke="#ff0000" stroke-width="0.9" stroke-dasharray="3.6 0.9 0.8 0.9"/>
<g fill="none" stroke="#ff0000" stroke-width="1.2"><circle cx="106.60" cy="325.50" r="1.50"/></g>
<text x="117.0" y="329.60" font-family="Liberation Mono, monospace" font-size="8.8" fill="#555" xml:space="preserve">Proposed algorithm</text>
<rect x="95.5" y="297.4" width="120.50" height="32.00" fill="none" stroke="#262626" stroke-width="1"/>
<text transform="translate(142.5 219.6) scale(0.89 1)" text-anchor="middle" font-family="Liberation Serif, serif" font-size="14.5" fill="#000">(<tspan font-weight="bold">a</tspan>)</text><text transform="translate(430.0 219.8) scale(0.97 1)" text-anchor="middle" font-family="Liberation Serif, serif" font-size="14.5" fill="#000">(<tspan font-weight="bold">b</tspan>)</text><text transform="translate(127.1 445.2) scale(0.9 1)" text-anchor="middle" font-family="Liberation Serif, serif" font-size="14.5" fill="#000">(<tspan font-weight="bold">c</tspan>)</text>
</svg>
</body></html>
